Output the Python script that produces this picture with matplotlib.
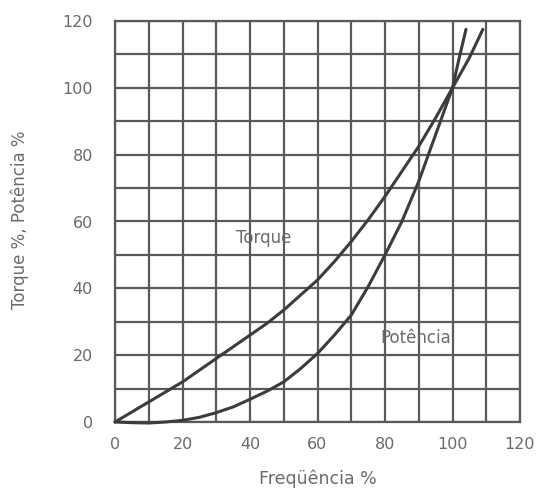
import matplotlib
matplotlib.use("Agg")
import matplotlib.pyplot as plt
from matplotlib.ticker import MultipleLocator

# Frequency (%) sample points and read values for each curve
torque_freq = [0, 5, 10, 15, 20, 25, 30, 35, 40, 45, 50, 55, 60, 65, 70,
               75, 80, 85, 90, 95, 100, 105, 109]
torque_pct = [0, 3, 6, 9, 12, 15.5, 19, 22.5, 26, 29.5, 33.5, 38, 42.5, 48,
              54, 60.5, 67.5, 75, 82.5, 91, 100, 109, 117.5]

power_freq = [0, 5, 10, 15, 20, 25, 30, 35, 40, 45, 50, 55, 60, 65, 70, 75,
              80, 85, 90, 95, 100, 102, 104]
power_pct = [0, -0.2, -0.3, 0, 0.5, 1.4, 2.8, 4.5, 6.8, 9.2, 12, 16, 20.5,
             26, 32, 40.5, 50, 60, 72, 86, 100, 109, 117.5]

x_ticks = [0, 20, 40, 60, 80, 100, 120]
y_ticks = [0, 20, 40, 60, 80, 100, 120]

text_color = "#6a6a6a"
grid_color = "#5a5a5a"
curve_color = "#3c3c3c"

plt.rcParams["font.family"] = ["DejaVu Sans"]

fig = plt.figure(figsize=(5.43, 4.90), dpi=100)
ax = fig.add_axes([115 / 543, 1 - 422 / 490, 405 / 543, 401 / 490])

ax.set_xlim(0, 120)
ax.set_ylim(0, 120)

# Square grid every 10 %
ax.xaxis.set_minor_locator(MultipleLocator(10))
ax.yaxis.set_minor_locator(MultipleLocator(10))
ax.set_xticks(x_ticks)
ax.set_yticks(y_ticks)
ax.grid(True, which="both", color=grid_color, linewidth=1.6)
ax.set_axisbelow(True)
for s in ax.spines.values():
    s.set_color(grid_color)
    s.set_linewidth(1.6)

ax.tick_params(which="both", length=0)
ax.tick_params(axis="x", pad=11, labelsize=11.5, labelcolor=text_color)
ax.tick_params(axis="y", pad=16, labelsize=11.5, labelcolor=text_color)

ax.plot(torque_freq, torque_pct, color=curve_color, linewidth=2.2,
        solid_capstyle="round", solid_joinstyle="round", clip_on=False,
        zorder=3)
ax.plot(power_freq, power_pct, color=curve_color, linewidth=2.2,
        solid_capstyle="round", solid_joinstyle="round", clip_on=False,
        zorder=3)

ax.text(44, 55, "Torque", color=text_color, fontsize=12,
        ha="center", va="center", zorder=4)
ax.text(89, 25, "Potência", color=text_color, fontsize=12,
        ha="center", va="center", zorder=4)

fig.text(20 / 543, 1 - 220 / 490, "Torque %, Potência %", rotation=90,
         color=text_color, fontsize=12, ha="center", va="center")
fig.text(318 / 543, 1 - 484 / 490, "Freqüência %", color=text_color,
         fontsize=12.5, ha="center", va="baseline")

fig.savefig("out.png", dpi=100, facecolor="white")
